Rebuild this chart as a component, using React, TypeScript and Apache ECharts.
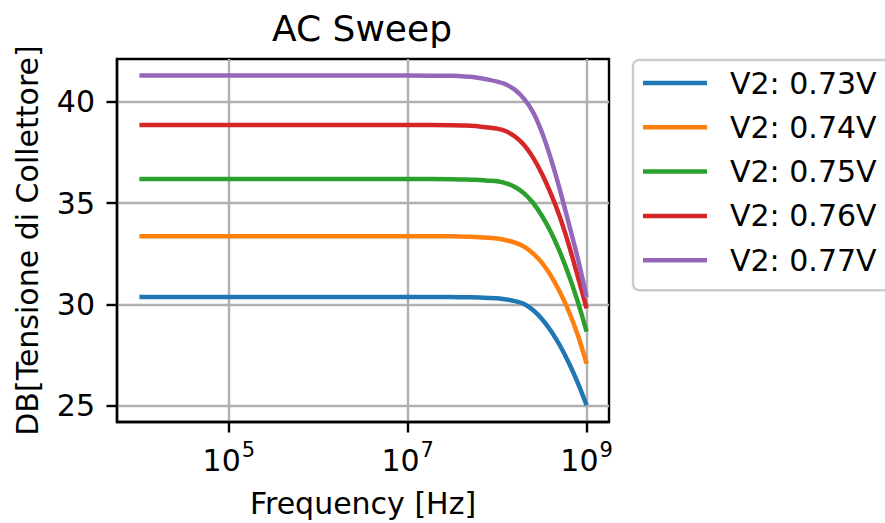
import React, { useEffect, useRef } from "react";
import * as echarts from "echarts";

const frequencies = [
  1e4, 1e5, 1e6, 1e7,
  3.16e7, 3.98e7, 5.01e7, 6.31e7, 7.94e7,
  1e8, 1.26e8, 1.58e8, 2.0e8, 2.51e8, 3.16e8, 3.98e8, 5.01e8, 6.31e8, 7.94e8, 1e9,
];

const seriesNames = ["V2: 0.73V", "V2: 0.74V", "V2: 0.75V", "V2: 0.76V", "V2: 0.77V"];

const v073 = [30.36, 30.36, 30.36, 30.36, 30.36, 30.35, 30.35, 30.34, 30.32, 30.3, 30.24, 30.16, 30.02, 29.72, 29.28, 28.7, 27.98, 27.12, 26.14, 25.02];
const v074 = [33.36, 33.36, 33.36, 33.36, 33.36, 33.35, 33.34, 33.32, 33.29, 33.25, 33.17, 33.05, 32.85, 32.52, 32.06, 31.42, 30.62, 29.66, 28.5, 27.07];
const v075 = [36.19, 36.19, 36.19, 36.19, 36.18, 36.17, 36.16, 36.14, 36.11, 36.08, 35.98, 35.8, 35.48, 35.02, 34.38, 33.58, 32.6, 31.45, 30.15, 28.66];
const v076 = [38.86, 38.86, 38.86, 38.86, 38.85, 38.84, 38.82, 38.79, 38.74, 38.68, 38.55, 38.29, 37.87, 37.26, 36.45, 35.47, 34.33, 32.95, 31.4, 29.8];
const v077 = [41.3, 41.3, 41.3, 41.3, 41.29, 41.27, 41.24, 41.18, 41.1, 41.0, 40.86, 40.6, 40.15, 39.5, 38.5, 37.2, 35.68, 34.0, 32.3, 30.35];

const seriesValues = [v073, v074, v075, v076, v077];
const colors = ["#1f77b4", "#ff7f0e", "#2ca02c", "#d62728", "#9467bd"];

const xTicks = [1e5, 1e7, 1e9];
const yTicks = [25, 30, 35, 40];

const FONT = "DejaVu Sans";
const FS = 30;

export default function App() {
  const ref = useRef<HTMLDivElement>(null);
  useEffect(() => {
    if (!ref.current) return;
    const chart = echarts.init(ref.current, null, { renderer: "svg" });
    const option: any = {
      animation: false,
      backgroundColor: "#ffffff",
      textStyle: { fontFamily: FONT },
      grid: {
        left: 117,
        right: 276,
        top: 59,
        bottom: 98,
        show: true,
        borderColor: "#000000",
        borderWidth: 2.4,
        backgroundColor: "transparent",
      },
      graphic: [
        {
          type: "text",
          x: 362,
          y: 28,
          style: {
            text: "AC Sweep",
            fontSize: 36,
            fontFamily: FONT,
            fill: "#000",
            textAlign: "center",
            textVerticalAlign: "middle",
          },
        },
      ],
      legend: {
        orient: "vertical",
        left: 633,
        top: 60,
        icon: "rect",
        itemWidth: 64,
        itemHeight: 4.5,
        itemGap: 12.3,
        padding: [7, 40, 14, 10],
        borderColor: "#cccccc",
        borderWidth: 2.4,
        borderRadius: 6,
        backgroundColor: "rgba(255,255,255,0.8)",
        textStyle: {
          fontSize: FS,
          fontFamily: FONT,
          color: "#000",
          lineHeight: 32,
          padding: [0, 0, 0, 18],
        },
        data: seriesNames,
      },
      xAxis: {
        type: "log",
        logBase: 10,
        min: Math.pow(10, 3.75),
        max: Math.pow(10, 9.25),
        name: "Frequency [Hz]",
        nameLocation: "middle",
        nameGap: 66,
        nameTextStyle: { fontSize: FS, fontFamily: FONT, color: "#000" },
        axisLine: { show: true, lineStyle: { color: "#000", width: 2.4 } },
        axisTick: {
          show: true,
          length: 10.5,
          inside: false,
          lineStyle: { color: "#000", width: 2.4 },
          customValues: xTicks,
        },
        minorTick: { show: false },
        axisLabel: {
          customValues: xTicks,
          margin: 17,
          color: "#000",
          formatter: (v: number) => `{b|10}{s|${Math.round(Math.log10(v))}}`,
          rich: {
            b: { fontSize: FS, fontFamily: FONT, color: "#000", verticalAlign: "bottom", lineHeight: 36 },
            s: { fontSize: 21, fontFamily: FONT, color: "#000", verticalAlign: "top", lineHeight: 36, padding: [0, 0, 0, 1] },
          },
        },
        splitLine: { show: true, lineStyle: { color: "#b0b0b0", width: 2.4 } },
      },
      yAxis: {
        type: "value",
        min: 24.19,
        max: 42.12,
        name: "DB[Tensione di Collettore]",
        nameLocation: "middle",
        nameGap: 75,
        nameTextStyle: { fontSize: FS, fontFamily: FONT, color: "#000" },
        axisLine: { show: true, lineStyle: { color: "#000", width: 2.4 } },
        axisTick: {
          show: true,
          length: 10.5,
          inside: false,
          lineStyle: { color: "#000", width: 2.4 },
          customValues: yTicks,
        },
        axisLabel: {
          customValues: yTicks,
          margin: 22,
          fontSize: FS,
          fontFamily: FONT,
          color: "#000",
        },
        splitLine: { show: true, lineStyle: { color: "#b0b0b0", width: 2.4 } },
      },
      series: seriesNames.map((name, i) => ({
        name,
        type: "line",
        data: frequencies.map((f, j) => [f, seriesValues[i][j]]),
        symbol: "none",
        smooth: 0.25,
        color: colors[i],
        lineStyle: { color: colors[i], width: 4.5 },
        z: 3,
      })),
    };
    chart.setOption(option);
    return () => chart.dispose();
  }, []);
  return (
    <div
      ref={ref}
      style={{ position: "fixed", left: 0, top: 0, width: 885, height: 523, background: "#fff" }}
    />
  );
}
